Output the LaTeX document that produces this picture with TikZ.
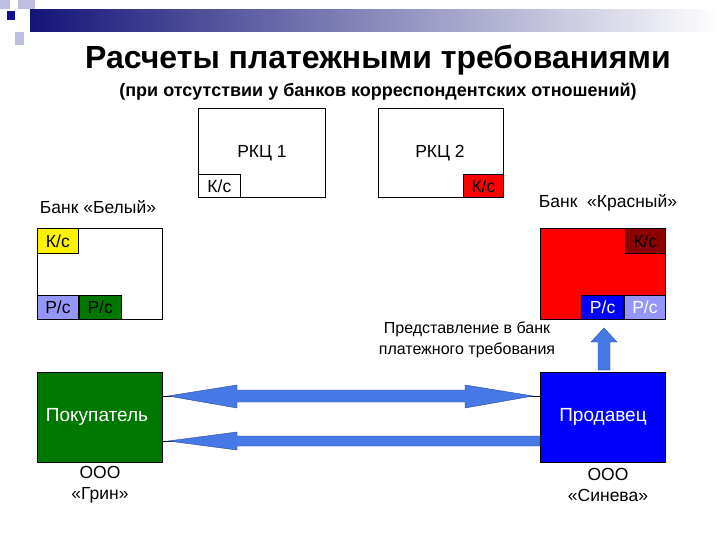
\documentclass[tikz,border=0pt]{standalone}
\usepackage{fontspec}
\setmainfont{Liberation Sans}
\begin{document}
\begin{tikzpicture}[x=1pt,y=-1pt,
  box/.style={draw=black,line width=0.8pt},
  lbl/.style={font=\fontsize{17.5}{21}\selectfont},
  fatarrow/.style={fill=arrblue,draw=arrblue!60!black,line width=0.4pt}]
\definecolor{navy}{RGB}{20,20,120}
\definecolor{lav}{RGB}{190,190,225}
\definecolor{arrblue}{RGB}{70,120,230}
\definecolor{pclav}{RGB}{150,150,250}
\definecolor{dgreen}{RGB}{0,120,0}
\definecolor{dred}{RGB}{140,0,0}
\useasboundingbox (0,0) rectangle (720,540);
% decoration
\shade[left color=navy,right color=white] (30,10) rectangle (720,32);
\fill[lav] (0,0) rectangle (10,9);
\fill[lav] (18,0) rectangle (35,9);
\fill[lav] (15,32) rectangle (24,45);
\fill[navy!80!blue] (7,11) rectangle (15,20);
% titles
\node (title) at (378,60) {\fontsize{32}{36}\selectfont\bfseries Расчеты платежными требованиями};
\node (sub) at (378,92) {\fontsize{18}{20}\selectfont\bfseries (при отсутствии у банков корреспондентских отношений)};
% RKC
\node[box,minimum width=127,minimum height=89,anchor=north west,inner sep=0] (r1) at (198,108) {};
\node[lbl] at (262,153) {РКЦ 1};
\node[box,minimum width=42,minimum height=23,anchor=south west,inner sep=0,lbl] (r1k) at (r1.south west) {К/с};
\node[box,minimum width=125,minimum height=89,anchor=north west,inner sep=0] (r2) at (378,108) {};
\node[lbl] at (440,153) {РКЦ 2};
\node[box,fill=red,minimum width=40,minimum height=23,anchor=south east,inner sep=0,lbl] (r2k) at (r2.south east) {К/с};
% banks
\node[lbl] (bw) at (98,207) {Банк «Белый»};
\node[box,minimum width=125,minimum height=91,anchor=north west,inner sep=0] (b1) at (37,228) {};
\node[box,fill=yellow,minimum width=41,minimum height=25,anchor=north west,inner sep=0,lbl] (b1k) at (b1.north west) {К/с};
\node[box,fill=pclav,minimum width=41,minimum height=24,anchor=south west,inner sep=0,lbl] (b1p1) at (b1.south west) {Р/с};
\node[box,fill=dgreen,minimum width=42,minimum height=24,anchor=south west,inner sep=0,lbl] (b1p2) at (b1p1.south east) {Р/с};
\node[lbl] (br) at (608,203) {Банк \ «Красный»};
\node[box,fill=red,minimum width=125,minimum height=91,anchor=north west,inner sep=0] (b2) at (540,228) {};
\node[box,fill=dred,minimum width=40,minimum height=25,anchor=north east,inner sep=0,lbl] (b2k) at (b2.north east) {К/с};
\node[box,fill=pclav,text=white,minimum width=41,minimum height=24,anchor=south east,inner sep=0,lbl] (b2p2) at (b2.south east) {Р/с};
\node[box,fill=blue,text=white,minimum width=42,minimum height=24,anchor=south east,inner sep=0,lbl] (b2p1) at (b2p2.south west) {Р/с};
% text
\node[align=center,font=\fontsize{16}{21}\selectfont] (pr) at (467,340) {Представление в банк\\платежного требования};
% parties
\node[box,fill=dgreen,minimum width=125,minimum height=90,anchor=north west,inner sep=0] (buy) at (37,372) {};
\node[lbl,text=white,font=\fontsize{19}{22}\selectfont] at (97,417) {Покупатель};
\node[box,fill=blue,minimum width=125,minimum height=90,anchor=north west,inner sep=0] (sel) at (540,372) {};
\node[lbl,text=white,font=\fontsize{19}{22}\selectfont] at (603,417) {Продавец};
\node[lbl,align=center] (ooo1) at (100,485) {ООО\\«Грин»};
\node[lbl,align=center] (ooo2) at (608,485) {ООО\\«Синева»};
% up arrow
\fill[fatarrow] (598,370) -- (598,342) -- (591,342) -- (604,328) -- (617,342) -- (610,342) -- (610,370) -- cycle;
% thin lines
\draw[line width=0.8pt] (buy.east |- 0,396) -- (sel.west |- 0,396);
\draw[line width=0.8pt] (buy.east |- 0,441) -- (175,441);
% top double arrow
\fill[fatarrow] (168,396) -- (237,385) -- (237,390) -- (465,390) -- (465,385) -- (533,396) -- (465,408) -- (465,402) -- (237,402) -- (237,408) -- cycle;
% bottom arrow
\fill[fatarrow] (168,441) -- (237,432) -- (237,436) -- (540,436) -- (540,446) -- (237,446) -- (237,450) -- cycle;
\end{tikzpicture}
\end{document}
